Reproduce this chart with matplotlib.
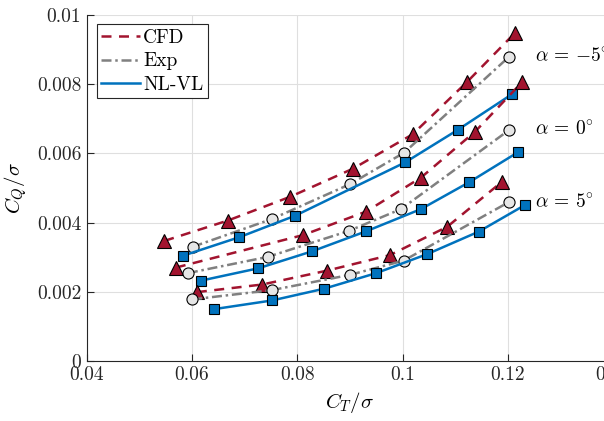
"""Torque vs thrust coefficient: CFD, experiment and NL-VL at three pitch angles."""

import matplotlib

matplotlib.use("Agg")
import matplotlib.pyplot as plt
from matplotlib.lines import Line2D

# ---- data ----
alphas = [r"$\alpha\,=\,{-}5^{\circ}$", r"$\alpha\,=\,0^{\circ}$", r"$\alpha\,=\,5^{\circ}$"]

cfd_ct = [
    [0.0547, 0.0668, 0.0787, 0.0906, 0.1019, 0.1123, 0.1213],
    [0.0569, 0.0811, 0.0931, 0.1035, 0.1138, 0.1228],
    [0.0609, 0.0733, 0.0856, 0.0976, 0.1085, 0.1189],
]
cfd_cq = [
    [0.00347, 0.00406, 0.00475, 0.00556, 0.00655, 0.00807, 0.00947],
    [0.00270, 0.00364, 0.00432, 0.00530, 0.00663, 0.00807],
    [0.00199, 0.00221, 0.00261, 0.00306, 0.00388, 0.00518],
]

exp_ct = [
    [0.0601, 0.0751, 0.0900, 0.1003, 0.1203],
    [0.0592, 0.0744, 0.0898, 0.0997, 0.1203],
    [0.0600, 0.0752, 0.0900, 0.1002, 0.1203],
]
exp_cq = [
    [0.00330, 0.00410, 0.00511, 0.00602, 0.00880],
    [0.00254, 0.00301, 0.00376, 0.00439, 0.00668],
    [0.00178, 0.00205, 0.00249, 0.00290, 0.00460],
]

nlvl_ct = [
    [0.0582, 0.0690, 0.0796, 0.1005, 0.1105, 0.1208],
    [0.0616, 0.0726, 0.0828, 0.0931, 0.1035, 0.1127, 0.1219],
    [0.0642, 0.0752, 0.0851, 0.0950, 0.1047, 0.1145, 0.1233],
]
nlvl_cq = [
    [0.00304, 0.00358, 0.00420, 0.00574, 0.00668, 0.00771],
    [0.00232, 0.00268, 0.00317, 0.00375, 0.00439, 0.00517, 0.00603],
    [0.00150, 0.00175, 0.00209, 0.00254, 0.00309, 0.00374, 0.00451],
]

label_pos = [(0.1252, 0.00880), (0.1252, 0.00668), (0.1252, 0.00457)]

RED = "#A2142F"
GRAY = "#808080"
BLUE = "#0072BD"
CFD_LS = (0, (4, 3))
EXP_LS = (0, (4, 1.5, 1, 1.5))

plt.rcParams["font.family"] = "serif"
plt.rcParams["font.serif"] = ["cmr10"]
plt.rcParams["mathtext.fontset"] = "cm"
plt.rcParams["axes.formatter.use_mathtext"] = True
plt.rcParams["axes.unicode_minus"] = False


def main() -> None:
    fig = plt.figure(figsize=(6.04, 4.21), dpi=100)
    ax = fig.add_axes([0.1439, 0.1425, 0.8709, 0.8219])

    for i in range(3):
        ax.plot(cfd_ct[i], cfd_cq[i], linestyle=CFD_LS, color=RED, lw=1.8,
                marker="^", ms=9.5, mfc=RED, mec="black", mew=0.8, zorder=3)
        ax.plot(exp_ct[i], exp_cq[i], linestyle=EXP_LS, color=GRAY, lw=1.8,
                marker="o", ms=8, mfc="#E6E6E6", mec="black", mew=0.8, zorder=3)
        ax.plot(nlvl_ct[i], nlvl_cq[i], linestyle="-", color=BLUE, lw=1.8,
                marker="s", ms=6.5, mfc=BLUE, mec="black", mew=0.8, zorder=3)
        ax.text(label_pos[i][0], label_pos[i][1], alphas[i], fontsize=14,
                va="center", ha="left")

    ax.set_xlim(0.04, 0.14)
    ax.set_ylim(0, 0.01)
    ax.set_xticks([0.04, 0.06, 0.08, 0.1, 0.12, 0.14])
    ax.set_xticklabels(["0.04", "0.06", "0.08", "0.1", "0.12", "0.14"])
    ax.set_yticks([0, 0.002, 0.004, 0.006, 0.008, 0.01])
    ax.set_yticklabels(["0", "0.002", "0.004", "0.006", "0.008", "0.01"])
    ax.tick_params(direction="in", length=5, width=0.8, colors="#262626",
                   labelsize=14, pad=4)
    ax.grid(True, color="#DFDFDF", lw=0.8)
    ax.set_axisbelow(True)
    for side in ("top", "right"):
        ax.spines[side].set_visible(False)
    for side in ("left", "bottom"):
        ax.spines[side].set_color("#262626")
        ax.spines[side].set_linewidth(0.8)

    ax.set_xlabel(r"$C_T/\sigma$", fontsize=15, labelpad=4)
    ax.set_ylabel(r"$C_Q/\sigma$", fontsize=15, labelpad=6)

    handles = [
        Line2D([], [], linestyle=CFD_LS, color=RED, lw=1.8),
        Line2D([], [], linestyle=EXP_LS, color=GRAY, lw=1.8),
        Line2D([], [], linestyle="-", color=BLUE, lw=1.8),
    ]
    leg = ax.legend(handles, ["CFD", "Exp", "NL-VL"], loc="upper left",
                    bbox_to_anchor=(0.0184, 0.973), borderaxespad=0, fontsize=14,
                    handlelength=2.0, handletextpad=0.15, borderpad=0.25,
                    labelspacing=0.27, fancybox=False, framealpha=1,
                    edgecolor="#262626")
    leg.get_frame().set_linewidth(0.8)

    fig.savefig("out.png", dpi=100)
    plt.close(fig)


if __name__ == "__main__":
    main()
